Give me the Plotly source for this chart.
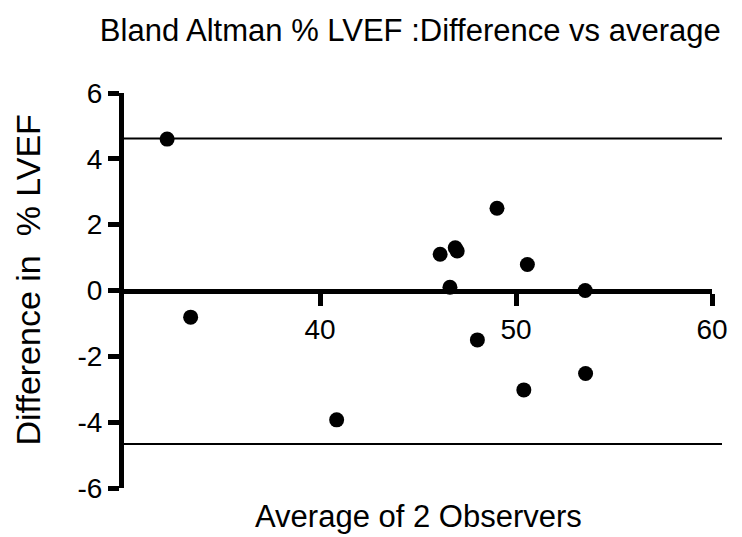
import plotly.graph_objects as go

# Data
average = [32.2, 33.4, 40.85, 46.13, 46.9, 47.0, 46.63, 49.03, 50.58, 53.53, 48.03, 50.4, 53.55]
difference = [4.6, -0.81, -3.93, 1.10, 1.30, 1.20, 0.10, 2.50, 0.79, 0.0, -1.50, -3.02, -2.52]
loa_upper = 4.62
loa_lower = -4.66
x_ticks = [40, 50, 60]
y_ticks = [-6, -4, -2, 0, 2, 4, 6]
y_tick_labels = ["-6", "-4", "-2", "0", "2", "4", "6"]

FONT = "Liberation Sans, Arial, sans-serif"

fig = go.Figure()
fig.add_trace(go.Scatter(
    x=average, y=difference, mode="markers",
    marker=dict(color="black", size=15),
    cliponaxis=False, showlegend=False,
))

for v in (loa_upper, loa_lower):
    fig.add_shape(type="line", xref="paper", yref="y",
                  x0=0, x1=1.017, y0=v, y1=v,
                  line=dict(color="black", width=2))

fig.update_layout(
    width=742, height=537,
    margin=dict(l=124, r=30, t=93, b=49),
    paper_bgcolor="white", plot_bgcolor="white",
    font=dict(family=FONT, color="black"),
    title=dict(text="Bland Altman % LVEF :Difference vs average",
               x=0.553, xanchor="center", y=0.944, yanchor="middle",
               font=dict(size=31, family=FONT, color="black")),
    xaxis=dict(range=[30, 60], tickvals=x_ticks, ticks="outside", ticklen=12,
               tickwidth=5, tickcolor="black", showline=True, linewidth=5,
               linecolor="black", showgrid=False, zeroline=False,
               anchor="free", position=0.5,
               tickfont=dict(size=28, family=FONT, color="black")),
    yaxis=dict(range=[-6, 6], tickvals=y_ticks, ticktext=y_tick_labels,
               ticks="outside", ticklen=11,
               tickwidth=5, tickcolor="black", showline=True, linewidth=5,
               linecolor="black", showgrid=False, zeroline=False,
               tickfont=dict(size=28, family=FONT, color="black")),
    annotations=[
        dict(text="Average of 2 Observers", xref="paper", yref="paper",
             x=0.5, y=0, yshift=-28, xanchor="center", yanchor="middle",
             showarrow=False, font=dict(size=31, family=FONT, color="black")),
        dict(text="Difference in&nbsp;&nbsp;% LVEF", xref="paper", yref="paper",
             x=0, xshift=-97, y=0.5, yshift=10, xanchor="center", yanchor="middle",
             textangle=-90, showarrow=False,
             font=dict(size=34, family=FONT, color="black")),
    ],
)

fig.write_html("out.html")
